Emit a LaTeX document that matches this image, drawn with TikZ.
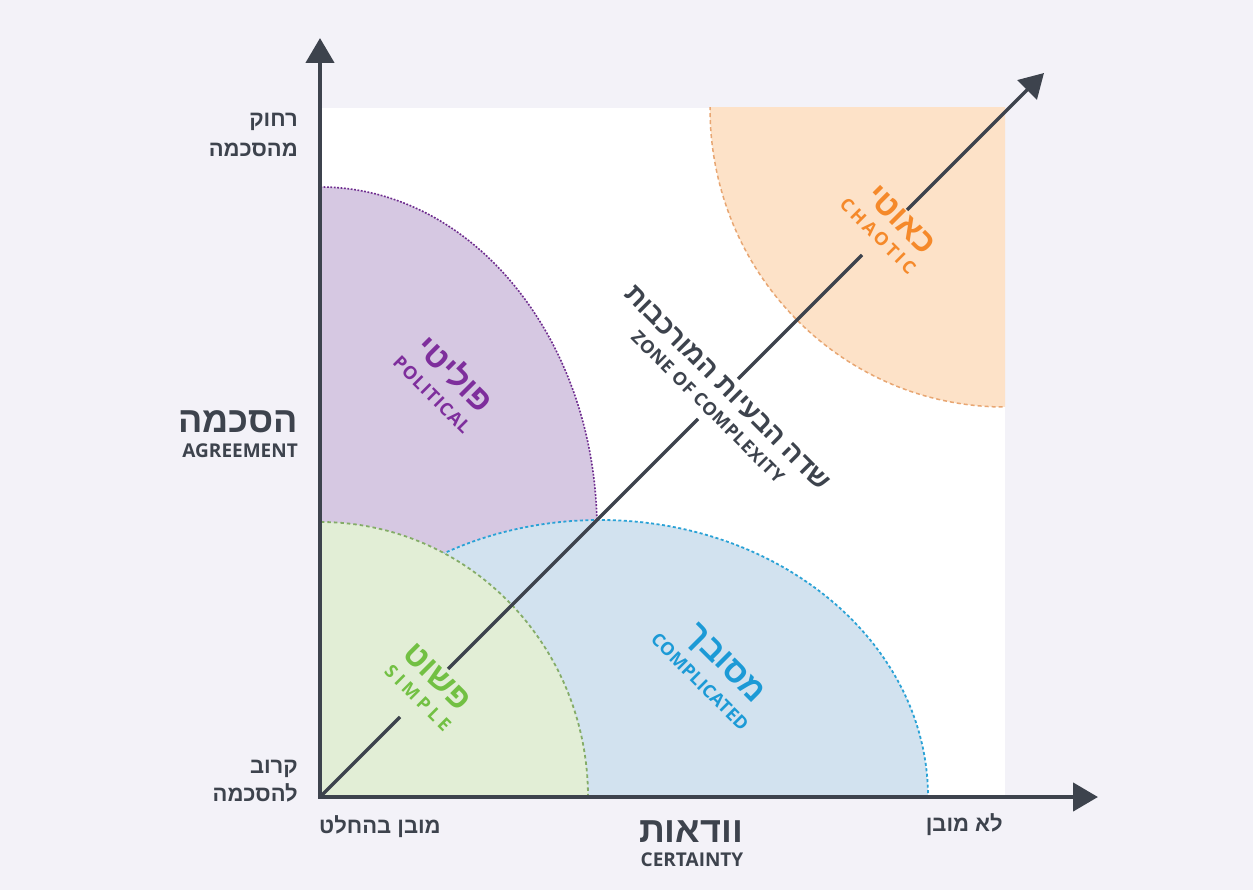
\documentclass[tikz,border=0pt]{standalone}
\usepackage{fontspec}
\usetikzlibrary{arrows.meta}
\TeXXeTstate=1
\newfontfamily\hebfont[Script=Hebrew]{Liberation Sans}
\newfontfamily\engfont{Open Sans}
\newcommand\HE[2]{{\hebfont\bfseries\fontsize{#1}{#1}\selectfont #2}}
\newcommand\EN[3]{{\engfont\bfseries\fontsize{#1}{#1}\selectfont\addfontfeature{LetterSpace=#2}#3}}
\definecolor{bg}{HTML}{F3F2F8}
\definecolor{axiscol}{HTML}{3D434D}
\definecolor{purpfill}{HTML}{D6C8E2}
\definecolor{purpline}{HTML}{6E2C8E}
\definecolor{purptext}{HTML}{7E2E9C}
\definecolor{bluefill}{HTML}{D2E2EF}
\definecolor{blueline}{HTML}{2AA2D6}
\definecolor{bluetext}{HTML}{1C9AD6}
\definecolor{greenfill}{HTML}{E2EED6}
\definecolor{greenline}{HTML}{84AC68}
\definecolor{greentext}{HTML}{72C043}
\definecolor{orangefill}{HTML}{FDE2C8}
\definecolor{orangeline}{HTML}{E8A672}
\definecolor{orangetext}{HTML}{F5892A}
\tikzset{
  axisline/.style={draw=axiscol, line width=4.5pt, line join=miter},
  diagline/.style={draw=axiscol, line width=3.5pt},
  lab/.style={inner sep=0pt, text=axiscol},
  rlab/.style={inner sep=0pt, rotate=-45},
  purpborder/.style={draw=purpline, line width=1.6pt, dash pattern=on 1.8pt off 1.6pt},
  blueborder/.style={draw=blueline, line width=1.8pt, dash pattern=on 3pt off 2.5pt},
  greenborder/.style={draw=greenline, line width=1.8pt, dash pattern=on 3.5pt off 3pt},
  orangeborder/.style={draw=orangeline, line width=1.5pt, dash pattern=on 4pt off 3pt},
}
\begin{document}
\begin{tikzpicture}[x=1pt,y=-1pt]
\useasboundingbox[fill=bg] (0,0) rectangle (1253,890);
\fill[white] (320,108) rectangle (1005,797);
% political
\begin{scope}
  \clip (320,108) rectangle (600,797);
  \fill[purpfill] (320,530) ellipse [x radius=277, y radius=343];
  \fill[purpfill] (320,530) rectangle (597,797);
  \draw[purpborder] (320,530) ellipse [x radius=277, y radius=343];
\end{scope}
% complicated
\begin{scope}
  \clip (320,108) rectangle (1005,797);
  \fill[bluefill] (600,797) ellipse [x radius=328, y radius=277];
  \draw[blueborder] (600,797) ellipse [x radius=328, y radius=277];
\end{scope}
% simple
\begin{scope}
  \clip (320,108) rectangle (1005,797);
  \fill[greenfill] (320,797) ellipse [x radius=268, y radius=275];
  \draw[greenborder] (320,797) ellipse [x radius=268, y radius=275];
\end{scope}
% chaotic
\begin{scope}
  \clip (320,108) rectangle (1005,797);
  \fill[orangefill] (1005,108) ellipse [x radius=295, y radius=299];
  \draw[orangeborder] (1005,108) ellipse [x radius=295, y radius=299];
\end{scope}
% axes coordinates
\coordinate (origin) at (320,797);
\coordinate (ytip) at (320,38);
\coordinate (xtip) at (1098,797);
\coordinate (dtip) at (1044,73);
\coordinate (g1a) at (400,717);
\coordinate (g1b) at (448,669);
\coordinate (g2a) at (698,419);
\coordinate (g2b) at (738,379);
\coordinate (g3a) at (862,255);
\coordinate (g3b) at (907,210);
% diagonal
\draw[diagline] (origin) -- (g1a);
\draw[diagline] (g1b) -- (g2a);
\draw[diagline] (g2b) -- (g3a);
\draw[diagline, -{Triangle[length=24pt,width=27pt]}] (g3b) -- (dtip);
% axes
\draw[axisline, {Triangle[length=25pt,width=28pt]}-{Triangle[length=25pt,width=28pt]}] (ytip) -- (origin) -- (xtip);
% region labels
\node[rlab, text=purptext] (polHe) at (456,373) {\HE{33}{\beginR פוליטי\endR}};
\node[rlab, text=purptext] (polEn) at (432,395) {\EN{18}{6}{POLITICAL}};
\node[rlab, text=axiscol] (zoneHe) at (727,388) {\HE{27}{\beginR שדה הבעיות המורכבות\endR}};
\node[rlab, text=axiscol] (zoneEn) at (708,407) {\EN{18}{4}{ZONE OF COMPLEXITY}};
\node[rlab, text=orangetext] (chaHe) at (901,220) {\HE{33}{\beginR כאוטי\endR}};
\node[rlab, text=orangetext] (chaEn) at (878,236) {\EN{18}{18}{CHAOTIC}};
\node[rlab, text=greentext] (simHe) at (437,677) {\HE{33}{\beginR פשוט\endR}};
\node[rlab, text=greentext] (simEn) at (418,698) {\EN{18}{23}{SIMPLE}};
\node[rlab, text=bluetext] (comHe) at (724,665) {\HE{33}{\beginR מסובך\endR}};
\node[rlab, text=bluetext] (comEn) at (700,682) {\EN{18}{1.5}{COMPLICATED}};
% axis labels
\node[lab, anchor=base east] (far1) at (298,127) {\HE{22}{\beginR רחוק\endR}};
\node[lab, anchor=base east] (far2) at (298,157) {\HE{22}{\beginR מהסכמה\endR}};
\node[lab, anchor=base east] (agrHe) at (298,432) {\HE{36}{\beginR הסכמה\endR}};
\node[lab, anchor=base east] (agrEn) at (298,457) {\EN{19}{0}{AGREEMENT}};
\node[lab, anchor=base east] (near1) at (298,773) {\HE{22}{\beginR קרוב\endR}};
\node[lab, anchor=base east] (near2) at (298,801) {\HE{22}{\beginR להסכמה\endR}};
\node[lab, anchor=base west] (und) at (319,833) {\HE{22}{\beginR מובן בהחלט\endR}};
\node[lab, anchor=base east] (nund) at (1003,831) {\HE{22}{\beginR לא מובן\endR}};
\node[lab, anchor=base] (certHe) at (691,842) {\HE{36}{\beginR וודאות\endR}};
\node[lab, anchor=base] (certEn) at (692,866) {\EN{19}{0}{CERTAINTY}};
\end{tikzpicture}
\end{document}
